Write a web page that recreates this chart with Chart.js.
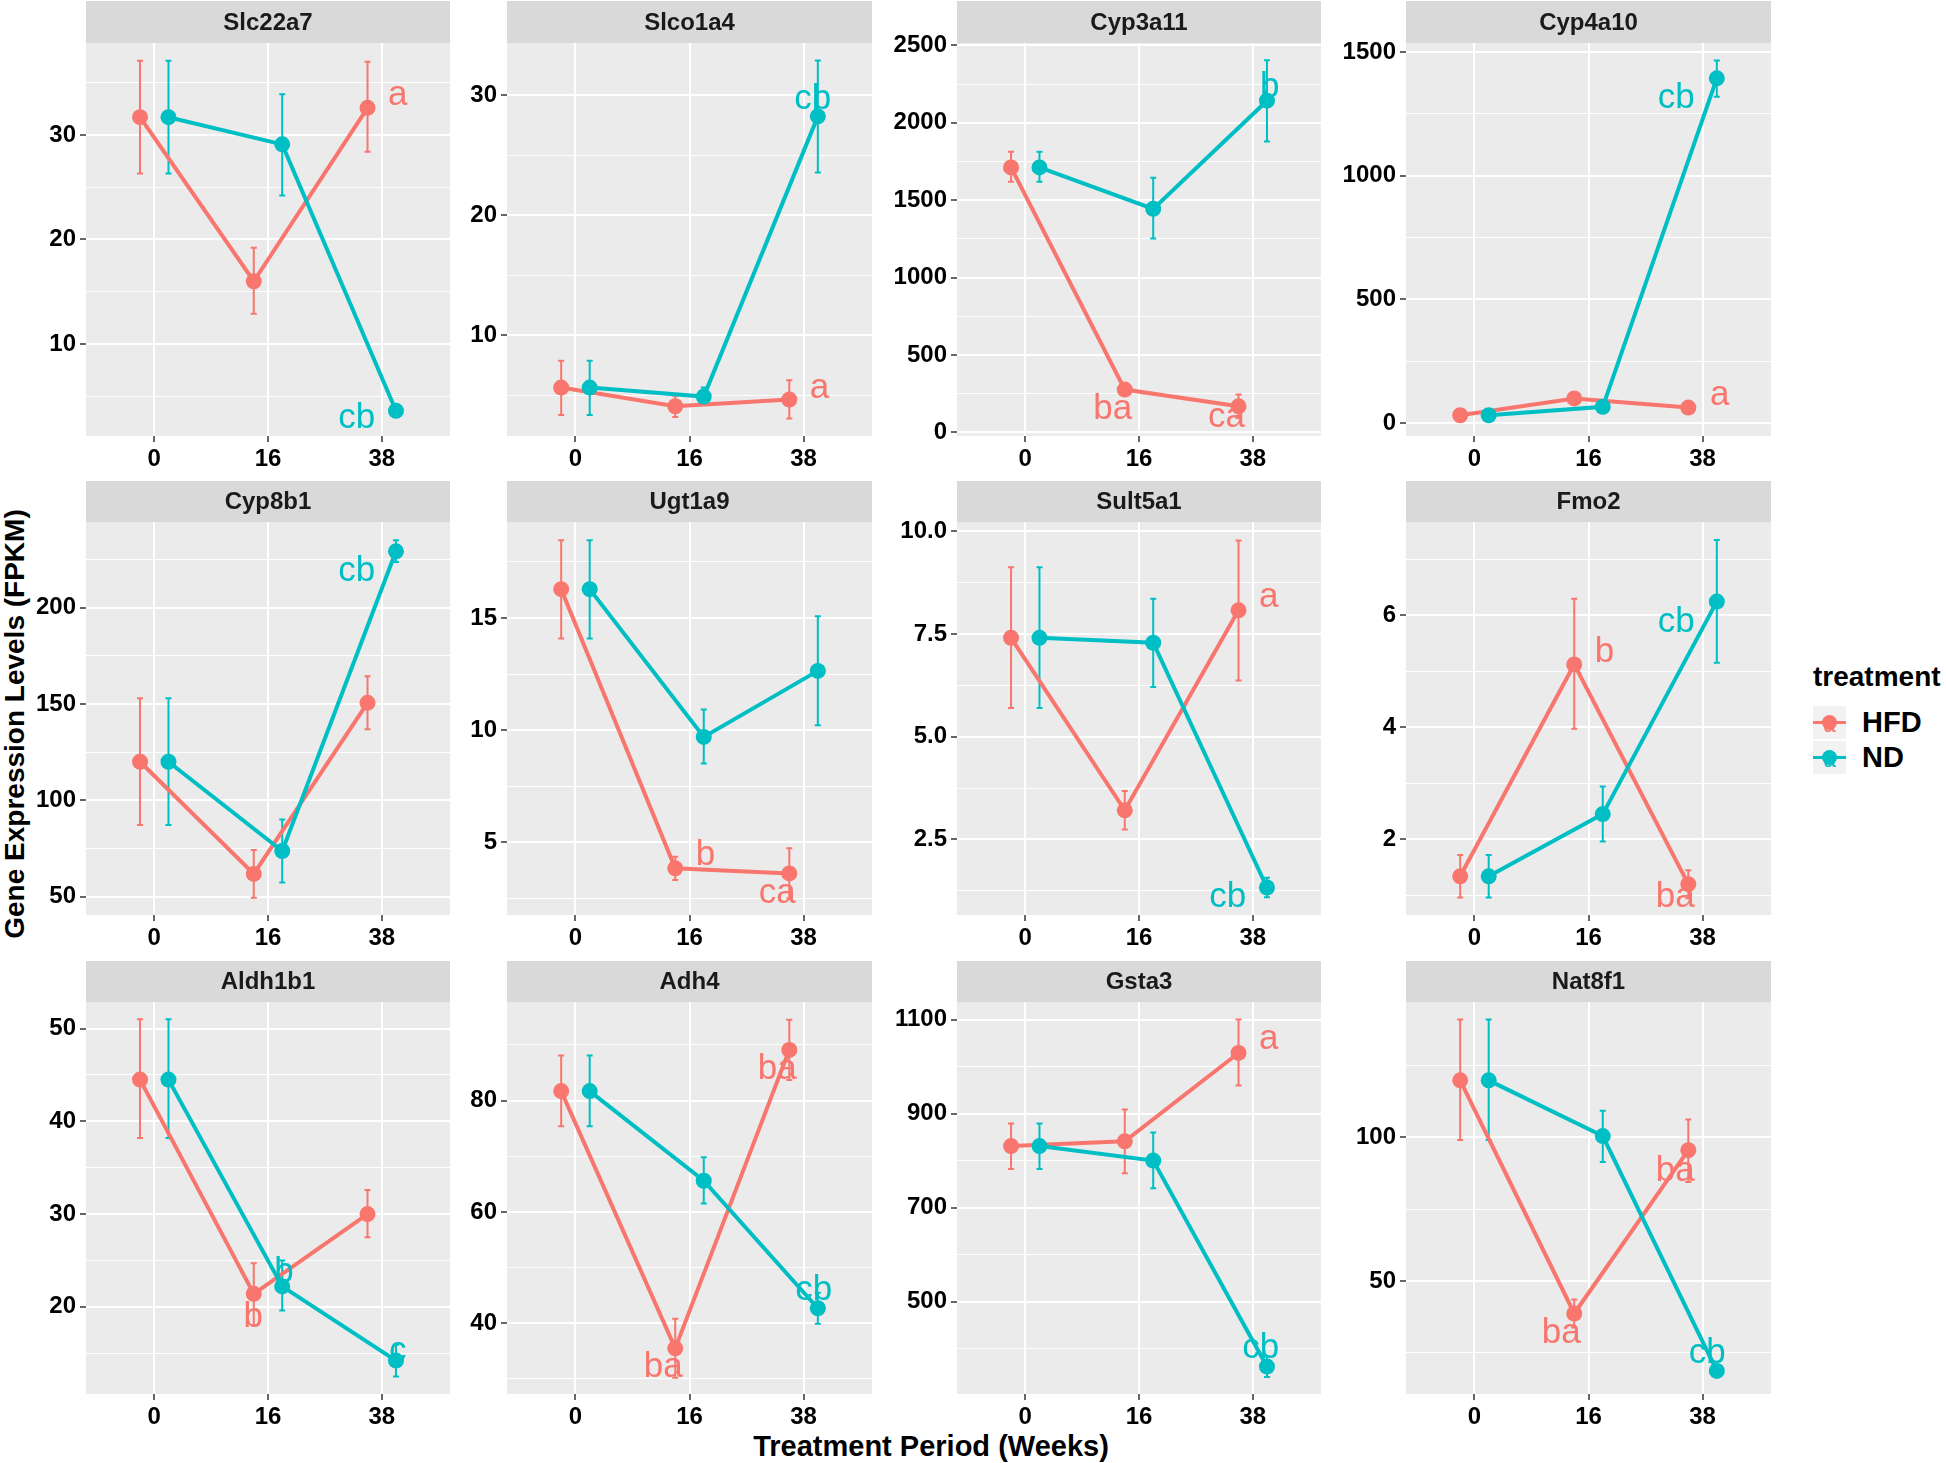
<!DOCTYPE html>
<html>
<head>
<meta charset="utf-8">
<script src="https://cdn.jsdelivr.net/npm/chart.js@4.4.1/dist/chart.umd.min.js"></script>
<style>
  body { margin: 0; background: #fff; width: 1946px; height: 1463px; position: relative; overflow: hidden;
         font-family: "Liberation Sans", Arial, sans-serif; }
  canvas.panel { position: absolute; }
  .axis-title { position: absolute; font-weight: bold; color: #000; white-space: nowrap; }
  #legend { position: absolute; left: 1813px; top: 660px; }
  #legend .title { font-weight: bold; font-size: 28px; line-height: 34px; margin-bottom: 11px; }
  #legend .row { display: flex; align-items: center; height: 35px; }
  #legend .key { position: relative; width: 33px; height: 33px; background: #F2F2F2; margin-right: 16px; }
  #legend .key .ln { position: absolute; left: 0; right: 0; top: 15px; height: 3px; }
  #legend .key .pt { position: absolute; left: 9px; top: 9px; width: 15px; height: 15px; border-radius: 50%; }
  #legend .key .tx { position: absolute; left: 0; right: 0; top: 8px; text-align: center; font-size: 22px; line-height: 22px; }
  #legend .lab { font-weight: bold; font-size: 29px; }
</style>
</head>
<body>

<div class="axis-title" style="font-size:28px; left:15px; top:724px; transform: translate(-50%,-50%) rotate(-90deg);">Gene Expression Levels (FPKM)</div>
<div class="axis-title" style="font-size:29px; left:931px; top:1446px; transform: translate(-50%,-50%);">Treatment Period (Weeks)</div>

<div id="legend">
  <div class="title">treatment</div>
  <div class="row"><div class="key"><div class="ln" style="background:#F8766D"></div><div class="pt" style="background:#F8766D"></div><div class="tx" style="color:#F8766D">a</div></div><span class="lab">HFD</span></div>
  <div class="row"><div class="key"><div class="ln" style="background:#00BFC4"></div><div class="pt" style="background:#00BFC4"></div><div class="tx" style="color:#00BFC4">a</div></div><span class="lab">ND</span></div>
</div>

<script>
// ---------- data ----------
const genes = ['Slc22a7', 'Slco1a4', 'Cyp3a11', 'Cyp4a10', 'Cyp8b1', 'Ugt1a9',
               'Sult5a1', 'Fmo2', 'Aldh1b1', 'Adh4', 'Gsta3', 'Nat8f1'];
const weeks = ['0', '16', '38'];

// mean FPKM per gene, weeks 0 / 16 / 38
const hfdMean = [
  [31.7, 16.0, 32.6], [5.63, 4.07, 4.63], [1712, 276, 168], [31, 99, 62],
  [120, 61.8, 150.6], [16.28, 3.85, 3.62], [7.41, 3.21, 8.08], [1.34, 5.12, 1.20],
  [44.5, 21.4, 30.0], [81.7, 35.5, 89.1], [831, 841, 1029], [119.9, 38.7, 95.6]
];
const hfdLow = [
  [26.3, 12.9, 28.4], [3.35, 3.18, 3.04], [1619, 256, 92], [23, 89, 54],
  [87.2, 49.5, 136.9], [14.08, 3.33, 2.50], [5.70, 2.74, 6.37], [0.96, 3.97, 0.95],
  [38.2, 18.0, 27.5], [75.4, 30.2, 83.7], [782, 773, 960], [99.1, 33.8, 84.5]
];
const hfdHigh = [
  [37.1, 19.2, 37.0], [7.86, 4.94, 6.25], [1813, 296, 244], [39, 109, 70],
  [152.9, 74.2, 164.4], [18.46, 4.36, 4.74], [9.13, 3.68, 9.78], [1.72, 6.29, 1.45],
  [51.0, 24.7, 32.6], [88.1, 40.8, 94.5], [879, 909, 1100], [141.1, 43.6, 106.3]
];
const ndMean = [
  [31.7, 29.1, 3.6], [5.63, 4.88, 28.25], [1712, 1444, 2143], [31, 65, 1394],
  [120, 73.7, 229.2], [16.28, 9.70, 12.64], [7.41, 7.29, 1.33], [1.34, 2.45, 6.24],
  [44.5, 22.2, 14.2], [81.7, 65.6, 42.7], [831, 800, 362], [119.9, 100.5, 18.7]
];
const ndLow = [
  [26.3, 24.2, 3.3], [3.35, 4.19, 23.57], [1619, 1253, 1880], [23, 50, 1320],
  [87.2, 57.3, 223.7], [14.08, 8.52, 10.22], [5.70, 6.21, 1.09], [0.96, 1.96, 5.15],
  [38.2, 19.6, 12.5], [75.4, 61.5, 39.9], [782, 741, 340], [99.1, 91.5, 17.5]
];
const ndHigh = [
  [37.1, 33.9, 3.9], [7.86, 5.63, 32.9], [1813, 1645, 2404], [39, 80, 1466],
  [152.9, 90.1, 234.9], [18.46, 10.92, 15.07], [9.13, 8.36, 1.57], [1.72, 2.94, 7.34],
  [51.0, 25.0, 15.9], [88.1, 69.8, 45.5], [879, 860, 384], [141.1, 109.3, 19.9]
];

// significance letters
const hfdLetters = [
  ['', '', 'a'], ['', '', 'a'], ['', 'ba', 'ca'], ['', '', 'a'], ['', '', ''], ['', 'b', 'ca'],
  ['', '', 'a'], ['', 'b', 'ba'], ['', 'b', ''], ['', 'ba', 'ba'], ['', '', 'a'], ['', 'ba', 'ba']
];
const ndLetters = [
  ['', '', 'cb'], ['', '', 'cb'], ['', '', 'b'], ['', '', 'cb'], ['', '', 'cb'], ['', '', ''],
  ['', '', 'cb'], ['', '', 'cb'], ['', 'b', 'c'], ['', '', 'cb'], ['', '', 'cb'], ['', '', 'cb']
];

// major y breaks and y limits of each facet (free scales)
const yBreaks = [
  [10, 20, 30], [10, 20, 30], [0, 500, 1000, 1500, 2000, 2500], [0, 500, 1000, 1500],
  [50, 100, 150, 200], [5, 10, 15], [2.5, 5, 7.5, 10], [2, 4, 6],
  [20, 30, 40, 50], [40, 60, 80], [500, 700, 900, 1100], [50, 100]
];
const yLimits = [
  [1.19, 38.8], [1.59, 34.37], [-24, 2516], [-53, 1537],
  [40.5, 244.4], [1.77, 19.27], [0.66, 10.23], [0.65, 7.66],
  [10.6, 52.87], [27.3, 97.7], [303.6, 1137.4], [10.65, 147.2]
];

// where each letter sits: [facet, series, week index, x (category units), baseline value]
const letterPlace = [
  [0, 'HFD', 2, 3.14, 32.87], [0, 'ND', 2, 2.78, 1.93],
  [1, 'HFD', 2, 3.14, 4.80], [1, 'ND', 2, 3.08, 28.89],
  [2, 'HFD', 1, 1.77, 89], [2, 'HFD', 2, 2.77, 34], [2, 'ND', 2, 3.15, 2169],
  [3, 'HFD', 2, 3.15, 74], [3, 'ND', 2, 2.77, 1273],
  [4, 'ND', 2, 2.78, 213.8],
  [5, 'HFD', 1, 2.14, 3.99], [5, 'HFD', 2, 2.77, 2.32],
  [6, 'HFD', 2, 3.14, 8.16], [6, 'ND', 2, 2.78, 0.86],
  [7, 'HFD', 1, 2.14, 5.17], [7, 'HFD', 2, 2.76, 0.80], [7, 'ND', 2, 2.77, 5.70],
  [8, 'HFD', 1, 1.87, 17.78], [8, 'ND', 1, 2.14, 22.7], [8, 'ND', 2, 3.14, 14.18],
  [9, 'HFD', 1, 1.77, 30.4], [9, 'HFD', 2, 2.77, 83.9], [9, 'ND', 2, 3.09, 44.2],
  [10, 'HFD', 2, 3.14, 1038], [10, 'ND', 2, 3.07, 379.5],
  [11, 'HFD', 1, 1.76, 28.3], [11, 'HFD', 2, 2.76, 84.9], [11, 'ND', 2, 3.04, 21.5]
];

// ---------- look ----------
const COLORS = { HFD: '#F8766D', ND: '#00BFC4' };
const DODGE = 0.125;
const TICK_FONT = { family: '"Liberation Sans", Arial, sans-serif', size: 24, weight: 'bold' };

const colLeft = [86, 507, 957, 1406];
const colRight = [458, 880, 1329, 1779];
const rowStrip = [1, 481, 961];
const rowTop = [43, 522, 1002];
const rowBottom = [436, 915, 1394];
const AXIS_W = 80, AXIS_H = 40;

function minorBreaks(breaks, lo, hi) {
  const step = breaks[1] - breaks[0];
  const out = [];
  for (let v = breaks[0] - step / 2; v <= hi; v += step) if (v >= lo) out.push(v);
  return out;
}

// grey panel + strip on top
const facetBack = {
  id: 'facetBack',
  beforeDraw(chart, args, opts) {
    const { ctx, chartArea: a } = chart;
    ctx.save();
    ctx.fillStyle = '#EBEBEB';
    ctx.fillRect(a.left, a.top, a.right - a.left, a.bottom - a.top);
    ctx.fillStyle = '#D9D9D9';
    ctx.fillRect(a.left, a.top - opts.height, a.right - a.left, opts.height);
    ctx.fillStyle = '#1a1a1a';
    ctx.font = 'bold 24px "Liberation Sans", Arial, sans-serif';
    ctx.textAlign = 'center';
    ctx.textBaseline = 'middle';
    ctx.fillText(opts.text, (a.left + a.right) / 2, a.top - opts.height / 2 + 1);
    ctx.restore();
  }
};

const errorBars = {
  id: 'errorBars',
  beforeDatasetsDraw(chart) {
    const { ctx, scales: { x, y } } = chart;
    chart.data.datasets.forEach(ds => {
      ctx.save();
      ctx.strokeStyle = ds.borderColor;
      ctx.lineWidth = 2;
      ds.data.forEach(pt => {
        const px = x.getPixelForValue(pt.x);
        const top = y.getPixelForValue(pt.hi), bot = y.getPixelForValue(pt.lo);
        ctx.beginPath();
        ctx.moveTo(px, top); ctx.lineTo(px, bot);
        ctx.moveTo(px - 3, top); ctx.lineTo(px + 3, top);
        ctx.moveTo(px - 3, bot); ctx.lineTo(px + 3, bot);
        ctx.stroke();
      });
      ctx.restore();
    });
  }
};

const letters = {
  id: 'letters',
  afterDatasetsDraw(chart, args, opts) {
    const { ctx, scales: { x, y } } = chart;
    ctx.save();
    ctx.font = '35px "Liberation Sans", Arial, sans-serif';
    ctx.textAlign = 'center';
    ctx.textBaseline = 'alphabetic';
    opts.items.forEach(it => {
      ctx.fillStyle = COLORS[it.series];
      ctx.fillText(it.text, x.getPixelForValue(it.x), y.getPixelForValue(it.y));
    });
    ctx.restore();
  }
};

function series(name, means, lows, highs, shift) {
  return {
    label: name,
    data: means.map((m, i) => ({ x: i + 1 + shift, y: m, lo: lows[i], hi: highs[i] })),
    borderColor: COLORS[name],
    backgroundColor: COLORS[name],
    borderWidth: 4,
    pointRadius: 8,
    pointBorderWidth: 0,
    tension: 0,
    order: name === 'HFD' ? 1 : 0
  };
}

genes.forEach((gene, p) => {
  const r = Math.floor(p / 4), c = p % 4;
  const stripH = rowTop[r] - rowStrip[r];
  const plotW = colRight[c] - colLeft[c];
  const plotH = rowBottom[r] - rowTop[r];

  const cv = document.createElement('canvas');
  cv.className = 'panel';
  cv.width = AXIS_W + plotW;
  cv.height = stripH + plotH + AXIS_H;
  cv.style.left = (colLeft[c] - AXIS_W) + 'px';
  cv.style.top = rowStrip[r] + 'px';
  document.body.appendChild(cv);

  const [lo, hi] = yLimits[p];
  const major = yBreaks[p];
  const dec = major.some(v => v % 1 !== 0) ? 1 : 0;
  const yTicks = major.map(v => ({ value: v, isMinor: false }))
    .concat(minorBreaks(major, lo, hi).map(v => ({ value: v, isMinor: true })))
    .sort((a, b) => a.value - b.value);

  const items = letterPlace.filter(l => l[0] === p).map(l => ({
    series: l[1],
    text: (l[1] === 'HFD' ? hfdLetters : ndLetters)[p][l[2]],
    x: l[3], y: l[4]
  }));

  new Chart(cv, {
    type: 'line',
    data: {
      datasets: [
        series('HFD', hfdMean[p], hfdLow[p], hfdHigh[p], -DODGE),
        series('ND', ndMean[p], ndLow[p], ndHigh[p], DODGE)
      ]
    },
    options: {
      responsive: false,
      animation: false,
      devicePixelRatio: 1,
      layout: { padding: { top: stripH, left: 0, right: 0, bottom: 0 } },
      plugins: {
        legend: { display: false },
        tooltip: { enabled: false },
        facetBack: { text: gene, height: stripH },
        letters: { items }
      },
      scales: {
        x: {
          type: 'linear', min: 0.4, max: 3.6,
          afterBuildTicks: s => { s.ticks = [1, 2, 3].map(v => ({ value: v })); },
          afterFit: s => { s.height = AXIS_H; },
          ticks: { callback: v => weeks[Math.round(v) - 1], font: TICK_FONT, color: '#000',
                   padding: 3, autoSkip: false, maxRotation: 0 },
          grid: { color: '#fff', lineWidth: 2, tickColor: '#333', tickLength: 6, tickWidth: 1.5 },
          border: { display: false }
        },
        y: {
          type: 'linear', min: lo, max: hi,
          afterBuildTicks: s => { s.ticks = yTicks.map(t => ({ ...t })); },
          afterFit: s => { s.width = AXIS_W; },
          ticks: {
            callback: (v, i, t) => (t[i] && t[i].isMinor) ? '' : v.toFixed(dec),
            font: TICK_FONT, color: '#000', padding: 4, autoSkip: false
          },
          grid: {
            color: '#fff',
            lineWidth: ctx => (ctx.tick && ctx.tick.isMinor) ? 1 : 2,
            tickColor: ctx => (ctx.tick && ctx.tick.isMinor) ? 'rgba(0,0,0,0)' : '#333',
            tickLength: 6, tickWidth: 1.5
          },
          border: { display: false }
        }
      }
    },
    plugins: [facetBack, errorBars, letters]
  });
});
</script>
</body>
</html>
